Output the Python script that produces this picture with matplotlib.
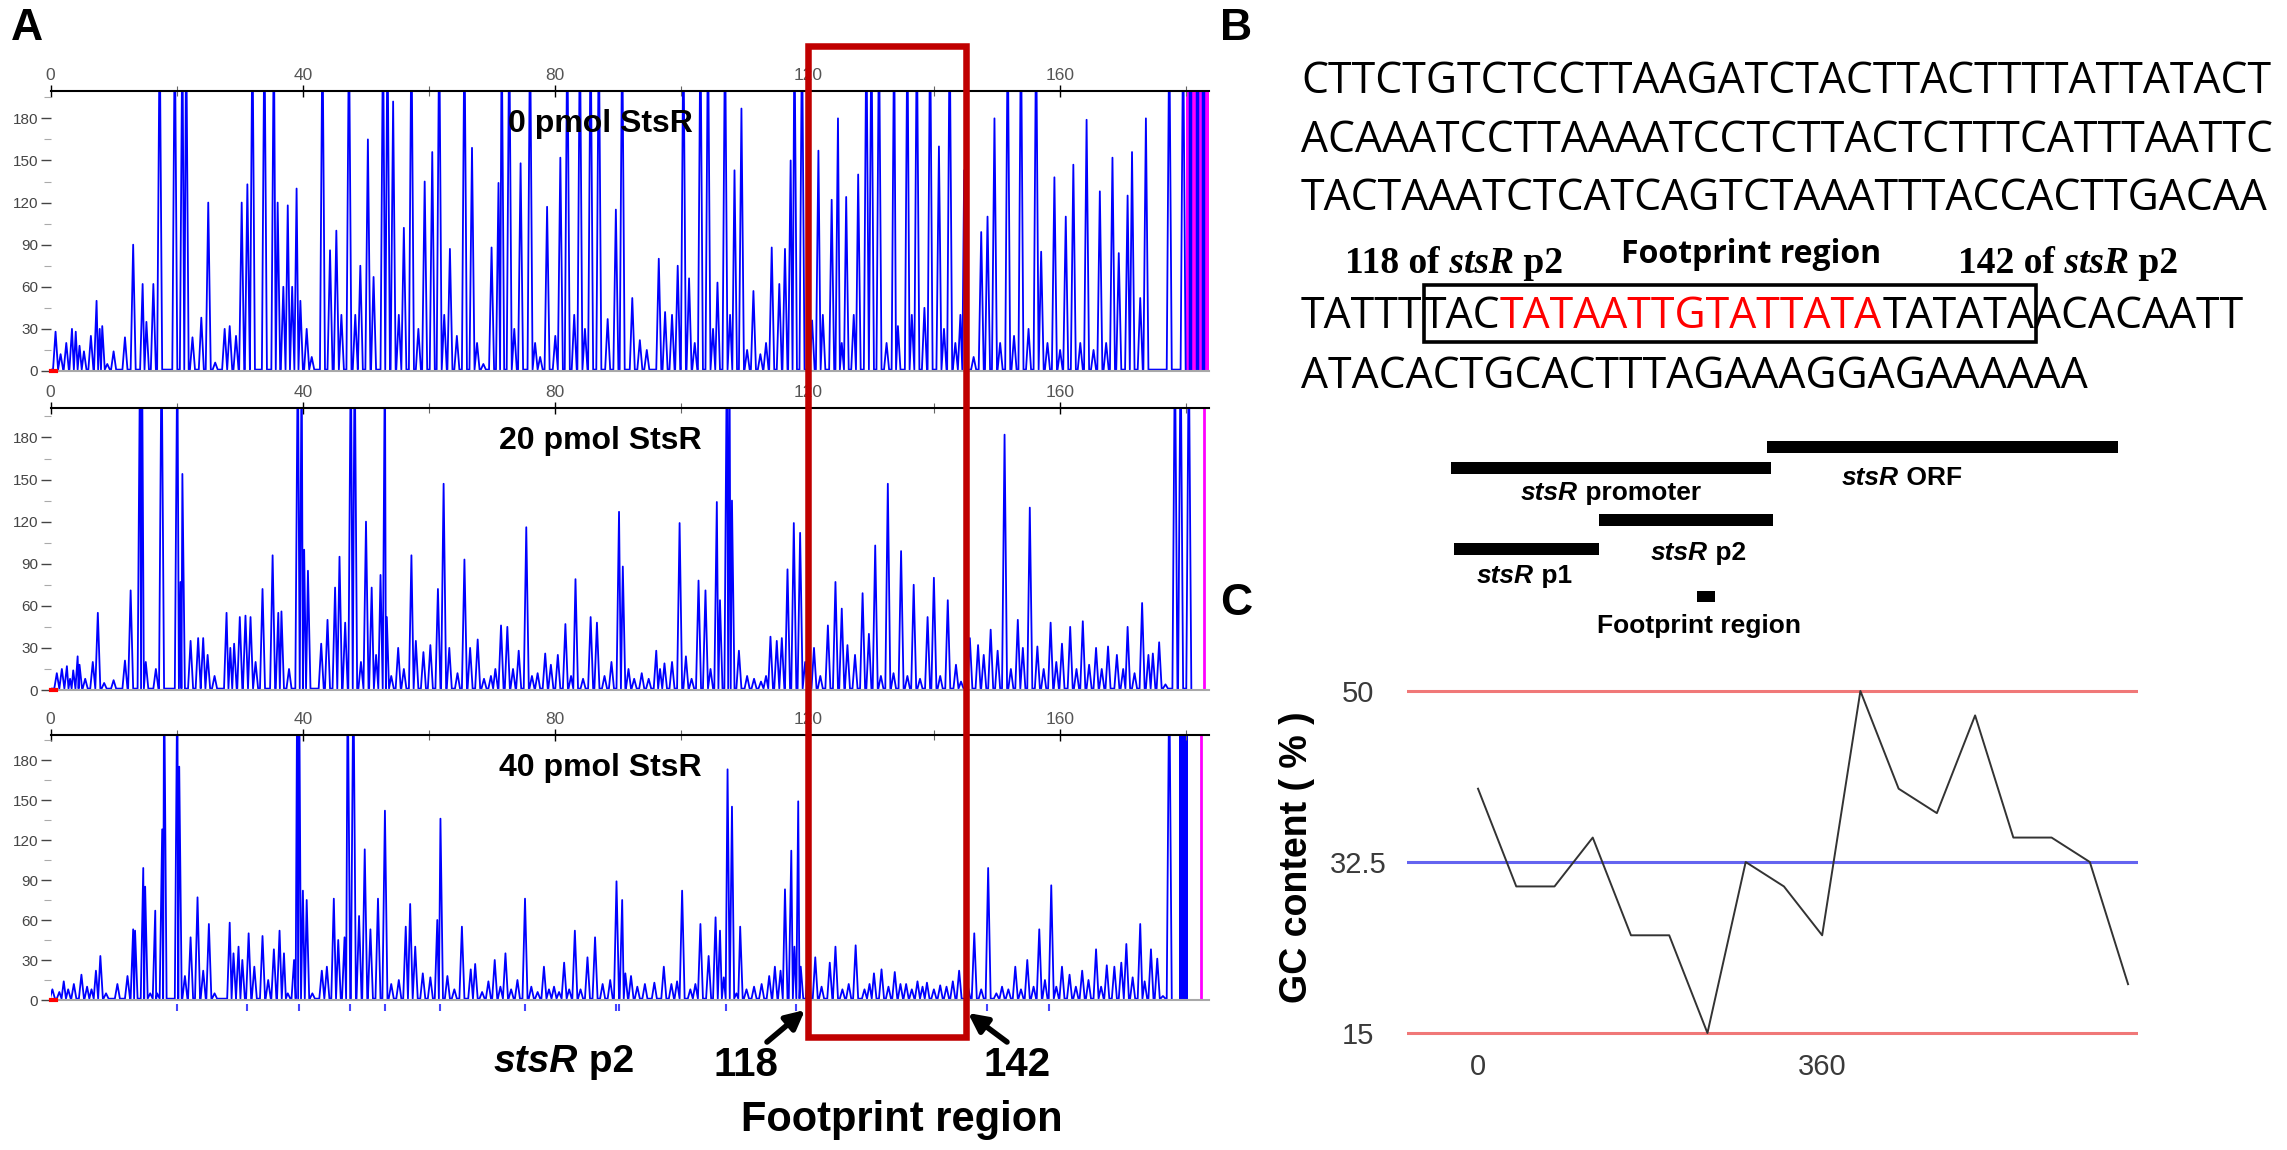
import matplotlib
matplotlib.use("Agg")
import matplotlib.pyplot as plt
from matplotlib import font_manager
from matplotlib.patches import Rectangle

W, H = 2287, 1150

# ---------------- data ----------------
# electropherogram peaks: (position, height); 250 = saturated peak
TOP_PEAKS = [
    (0.8, 28), (1.6, 12), (2.5, 20), (3.4, 30), (4.0, 28), (4.6, 18), (5.3, 14), (6.4, 25),
    (7.3, 50), (7.8, 30), (8.2, 32), (9.0, 5), (10.0, 14), (11.8, 24), (13.1, 90), (14.6, 62),
    (15.2, 35), (16.3, 62), (17.3, 250), (19.7, 250), (20.9, 250), (21.5, 250), (22.5, 24),
    (23.9, 38), (25.0, 120), (26.1, 6), (27.6, 30), (28.4, 32), (29.4, 25), (30.3, 120),
    (31.2, 133), (32.0, 250), (33.9, 250), (35.4, 250), (36.0, 120), (36.9, 60), (37.6, 118),
    (38.3, 60), (39.0, 130), (39.6, 50), (40.6, 30), (41.4, 10), (43.1, 250), (44.3, 86),
    (45.3, 100), (46.1, 40), (47.3, 250), (48.3, 40), (49.1, 75), (50.3, 165), (51.2, 67),
    (52.7, 250), (53.4, 250), (54.3, 192), (55.2, 40), (56.0, 102), (57.2, 250), (58.3, 30),
    (59.3, 135), (60.5, 156), (61.6, 250), (62.4, 40), (63.3, 87), (64.4, 25), (65.6, 250),
    (66.8, 159), (67.6, 20), (68.6, 5), (69.9, 88), (71.0, 134), (71.5, 250), (72.7, 250),
    (73.5, 30), (74.5, 148), (76.0, 250), (76.8, 20), (77.6, 10), (78.7, 117), (80.0, 25),
    (80.8, 152), (81.9, 250), (83.0, 40), (83.9, 250), (84.7, 30), (85.6, 250), (86.9, 250),
    (88.3, 37), (89.6, 115), (90.6, 250), (92.2, 52), (93.4, 22), (94.5, 15), (96.4, 80),
    (97.4, 42), (98.5, 40), (99.4, 75), (100.3, 250), (101.2, 66), (102.1, 20), (103.0, 250),
    (104.2, 250), (105.0, 30), (105.7, 63), (106.9, 250), (107.7, 40), (108.4, 143),
    (109.5, 187), (110.4, 15), (111.4, 57), (112.5, 12), (113.4, 20), (114.3, 88), (115.5, 62),
    (116.4, 87), (117.3, 150), (117.9, 250), (119.1, 250), (120.7, 36), (121.7, 157),
    (122.4, 40), (123.8, 122), (124.8, 180), (125.4, 20), (126.1, 124), (127.3, 40),
    (128.0, 140), (129.3, 250), (130.1, 250), (131.3, 250), (132.5, 20), (133.7, 250),
    (134.3, 32), (135.8, 250), (136.5, 40), (137.3, 250), (138.5, 45), (139.4, 250),
    (140.8, 160), (141.6, 30), (142.5, 250), (143.4, 20), (144.2, 40), (144.8, 143),
    (146.3, 10), (147.5, 99), (148.5, 110), (149.6, 180), (150.5, 20), (151.7, 250),
    (152.7, 25), (153.8, 250), (155.0, 30), (156.2, 250), (157.0, 85), (158.0, 20),
    (159.1, 138), (160.0, 15), (160.9, 110), (162.1, 147), (163.2, 20), (164.2, 179),
    (165.3, 15), (166.3, 128), (167.3, 20), (168.3, 152), (169.3, 84), (170.7, 125),
    (171.4, 156), (172.7, 52), (173.6, 180), (177.3, 250), (179.5, 250),
]

MID_PEAKS = [
    (1.0, 12), (1.8, 15), (2.6, 17), (3.1, 8), (3.6, 14), (4.3, 24), (4.6, 18), (5.5, 8),
    (6.7, 20), (7.5, 55), (8.5, 5), (10.0, 7), (11.8, 21), (12.7, 71), (14.2, 250), (14.5, 250),
    (15.1, 20), (16.7, 15), (17.6, 250), (20.1, 250), (20.6, 77), (20.9, 154), (22.2, 35),
    (23.4, 37), (24.2, 37), (24.9, 25), (26.0, 10), (27.9, 55), (28.5, 30), (29.1, 33),
    (30.0, 52), (30.9, 53), (31.7, 52), (32.5, 20), (33.6, 72), (35.2, 96), (36.1, 55),
    (36.6, 56), (37.8, 15), (39.2, 250), (39.8, 250), (40.2, 100), (40.8, 85), (42.9, 33),
    (43.9, 50), (45.1, 73), (45.8, 95), (46.7, 48), (47.6, 250), (48.2, 250), (49.2, 20),
    (50.0, 120), (50.9, 73), (51.6, 25), (52.3, 82), (53.0, 250), (53.3, 52), (54.0, 10),
    (55.1, 30), (56.0, 15), (57.2, 96), (57.9, 35), (59.1, 27), (60.2, 32), (61.4, 72),
    (62.3, 147), (63.2, 30), (64.5, 12), (65.6, 93), (66.5, 30), (67.7, 36), (68.7, 8),
    (69.8, 10), (70.5, 15), (71.4, 46), (72.4, 45), (73.3, 15), (74.2, 28), (75.4, 116),
    (76.3, 10), (77.2, 12), (78.4, 26), (79.3, 18), (80.4, 25), (81.6, 47), (82.5, 10),
    (83.2, 79), (84.4, 8), (85.6, 52), (86.6, 48), (87.8, 10), (88.9, 20), (90.1, 127),
    (90.7, 88), (91.6, 15), (92.5, 8), (93.7, 12), (94.8, 8), (96.0, 28), (96.6, 15),
    (97.3, 19), (98.5, 20), (99.7, 119), (100.7, 24), (101.6, 8), (102.7, 78), (103.8, 71),
    (104.6, 15), (105.6, 134), (106.1, 64), (107.2, 250), (107.6, 250), (108.0, 135),
    (109.1, 28), (110.4, 10), (111.5, 8), (112.6, 6), (113.4, 10), (114.1, 38), (115.1, 35),
    (115.9, 37), (116.8, 86), (117.8, 119), (118.8, 112), (119.6, 20), (121.0, 30),
    (122.0, 10), (123.2, 46), (124.4, 77), (125.4, 58), (126.3, 32), (127.5, 25), (128.7, 69),
    (129.7, 40), (130.7, 103), (131.6, 10), (132.7, 147), (133.6, 12), (134.8, 99),
    (135.8, 10), (136.8, 75), (137.8, 8), (139.0, 52), (140.0, 80), (141.0, 10), (142.2, 64),
    (143.5, 18), (144.3, 6), (145.7, 37), (147.0, 32), (147.9, 25), (149.0, 43), (150.1, 28),
    (151.2, 182), (152.2, 15), (153.3, 50), (154.1, 30), (155.2, 130), (156.4, 31),
    (157.4, 15), (158.5, 48), (159.4, 20), (160.3, 33), (161.6, 45), (162.6, 15), (163.6, 49),
    (164.6, 18), (165.7, 30), (166.6, 15), (167.6, 31), (169.0, 25), (170.0, 15), (170.7, 45),
    (171.8, 12), (173.0, 62), (174.0, 25), (174.7, 26), (175.7, 34), (176.7, 4),
    (178.2, 250), (179.1, 250), (180.4, 250),
]

BOT_PEAKS = [
    (0.3, 8), (1.4, 6), (2.1, 14), (2.8, 8), (3.7, 12), (4.9, 19), (5.8, 10), (6.5, 8),
    (7.2, 22), (7.9, 33), (8.8, 5), (10.6, 12), (12.2, 18), (13.1, 53), (13.4, 52), (14.7, 99),
    (15.0, 85), (15.8, 5), (16.6, 67), (16.9, 5), (17.7, 128), (18.0, 250), (20.1, 250),
    (20.4, 175), (21.3, 18), (22.2, 47), (23.3, 77), (24.2, 22), (25.1, 57), (26.0, 5),
    (28.4, 58), (29.0, 35), (29.8, 40), (30.4, 30), (31.4, 50), (32.3, 25), (33.6, 48),
    (34.5, 15), (35.4, 38), (36.3, 52), (37.0, 35), (37.6, 5), (38.6, 30), (39.1, 250),
    (39.4, 250), (40.0, 82), (40.6, 75), (41.5, 5), (43.0, 22), (43.8, 25), (44.9, 76),
    (45.6, 45), (46.6, 47), (47.1, 250), (48.0, 250), (48.9, 63), (49.8, 113), (50.7, 53),
    (51.9, 76), (53.0, 142), (54.0, 12), (55.2, 15), (56.3, 55), (57.0, 72), (57.8, 40),
    (59.0, 20), (60.2, 17), (61.3, 60), (61.8, 136), (62.9, 18), (64.0, 8), (65.2, 55),
    (66.6, 23), (67.3, 27), (68.4, 6), (69.4, 14), (70.4, 30), (71.3, 10), (72.1, 35),
    (73.0, 8), (74.0, 15), (75.2, 76), (76.2, 10), (77.2, 6), (78.2, 25), (79.0, 8),
    (79.8, 10), (80.6, 6), (81.4, 28), (82.2, 8), (83.1, 52), (84.0, 8), (85.1, 32),
    (86.3, 47), (87.5, 12), (88.7, 15), (89.7, 89), (90.6, 75), (91.1, 20), (92.0, 18),
    (93.0, 10), (94.2, 12), (95.7, 13), (97.2, 25), (98.4, 12), (99.3, 14), (100.1, 82),
    (101.4, 8), (102.2, 12), (103.0, 57), (104.3, 33), (105.4, 62), (106.1, 52), (106.7, 17),
    (107.3, 173), (108.0, 145), (108.7, 5), (109.3, 55), (110.3, 8), (111.5, 10), (112.7, 12),
    (113.9, 18), (114.8, 25), (115.7, 22), (116.4, 83), (117.4, 112), (117.9, 40),
    (118.5, 149), (118.9, 25), (120.1, 33), (121.2, 32), (122.2, 10), (123.5, 28), (124.4, 40),
    (125.5, 8), (126.5, 12), (127.6, 41), (129.0, 8), (129.8, 12), (130.5, 20), (131.7, 23),
    (132.8, 10), (133.8, 21), (134.7, 12), (135.6, 12), (136.5, 8), (137.4, 14), (138.2, 10),
    (138.9, 13), (140.0, 8), (141.0, 11), (142.0, 10), (143.0, 14), (144.0, 22), (145.4, 10),
    (146.4, 50), (147.5, 8), (148.6, 99), (149.9, 5), (150.8, 10), (151.8, 8), (152.9, 25),
    (153.8, 8), (154.8, 30), (155.8, 10), (156.7, 53), (157.6, 15), (158.6, 86), (159.4, 10),
    (160.3, 25), (161.5, 19), (162.5, 10), (163.5, 22), (164.5, 15), (165.7, 38), (166.5, 10),
    (167.4, 26), (168.6, 25), (169.7, 28), (170.5, 42), (171.5, 17), (172.7, 57), (173.4, 14),
    (174.4, 38), (175.4, 31), (176.3, 3), (177.3, 250),
]

# peak-call marks under the 40 pmol trace
BOT_MARKS = [20.0, 31.2, 39.4, 47.5, 53.0, 61.8, 75.2, 89.7, 90.1, 107.0, 118.2, 148.4, 158.2]

TRACE_LABELS = ["0 pmol StsR", "20 pmol StsR", "40 pmol StsR"]
TRACE_YMAX = [199.5, 201, 198.75]
X_TICKS = [0, 40, 80, 120, 160]
Y_TICKS = [0, 30, 60, 90, 120, 150, 180]

SEQ_LINES = [
    "CTTCTGTCTCCTTAAGATCTACTTACTTTTATTATACT",
    "ACAAATCCTTAAAATCCTCTTACTCTTTCATTTAATTC",
    "TACTAAATCTCATCAGTCTAAATTTACCACTTGACAA",
    None,
    "ATACACTGCACTTTAGAAAGGAGAAAAAA",
]
SEQ_BOX_PIECES = [("TATTT", "black"), ("TAC", "black"), ("TATAATTGTATTATA", "red"),
                  ("TATATA", "black"), ("ACACAATT", "black")]

GC_POS = [0, 40, 80, 120, 160, 200, 240, 280, 320, 360, 400, 440, 480, 520, 560, 600, 640, 680]
GC_VAL = [40, 30, 30, 35, 25, 25, 15, 32.5, 30, 25, 50, 40, 37.5, 47.5, 35, 35, 32.5, 20]
GC_YTICKS = [15, 32.5, 50]
GC_XTICKS = [0, 360]


def pick_font(names, bold=False):
    for n in names:
        for f in font_manager.fontManager.ttflist:
            if f.name == n and (not bold or (isinstance(f.weight, int) and f.weight >= 600)
                                or f.weight in ("bold", "semibold", "heavy", "black")):
                return n
    return "DejaVu Sans"


SANS = pick_font(["Liberation Sans", "Arial"])
SERIF = pick_font(["Liberation Serif", "DejaVu Serif"])
SEQ = pick_font(["Open Sans", "Noto Sans", "Lato"])
SEQ_BOLD = pick_font(["Open Sans", "Noto Sans", "Lato"], bold=True)
plt.rcParams["font.family"] = SANS


def trace_line(peaks, base=1.0, hw=0.4):
    pos = [p for p, _ in peaks]
    xs, ys = [0], [base]
    for i, (p, h) in enumerate(peaks):
        lg = (p - pos[i - 1]) / 2 if i > 0 else hw
        rg = (pos[i + 1] - p) / 2 if i < len(pos) - 1 else hw
        xs += [p - min(hw, lg), p, p + min(hw, rg)]
        ys += [base, h, base]
    return xs, ys


def setup_trace(ax, ymax):
    ax.set_xlim(0, 183.6)
    ax.set_ylim(0, ymax)
    ax.spines["left"].set_visible(False)
    ax.spines["right"].set_visible(False)
    ax.spines["top"].set_linewidth(1.5)
    ax.spines["bottom"].set_color("#a8a8a8")
    ax.spines["bottom"].set_linewidth(1.5)
    ax.xaxis.tick_top()
    ax.set_xticks(X_TICKS)
    ax.set_xticks([20, 60, 100, 140, 180], minor=True)
    ax.tick_params(axis="x", which="major", direction="inout", length=9, width=1,
                   colors="k", labelcolor="#555555", labelsize=12.5, pad=1)
    ax.tick_params(axis="x", which="minor", direction="inout", length=7, width=0.8, colors="#666666")
    ax.set_yticks(Y_TICKS)
    ax.set_yticks([15, 45, 75, 105, 135, 165, 195], minor=True)
    ax.tick_params(axis="y", which="major", direction="out", length=7, width=1,
                   colors="#444444", labelsize=11, pad=2)
    ax.tick_params(axis="y", which="minor", direction="out", length=5, width=0.8, colors="#aaaaaa")
    ax.plot([0, 0.9], [0, 0], color="red", lw=3, clip_on=False, zorder=5)


fig = plt.figure(figsize=(W / 100, H / 100), dpi=100)

# ---------------- panel A: three traces ----------------
ax_left = 50.5 / W
ax_w = 1158.5 / W
boxes = [(91, 371), (408, 690), (735, 1000)]
axes = []
for (top, bot), peaks, ymax in zip(boxes, [TOP_PEAKS, MID_PEAKS, BOT_PEAKS], TRACE_YMAX):
    ax = fig.add_axes([ax_left, (H - bot) / H, ax_w, (bot - top) / H])
    setup_trace(ax, ymax)
    xs, ys = trace_line(peaks)
    ax.plot(xs, ys, color="#0000ff", lw=1.3)
    axes.append(ax)

a0, a1, a2 = axes
a0.axvspan(180.0, 183.6, color="#ff00ff", lw=0)
a0.vlines([180.6, 181.7, 182.6], 0, 250, colors="#0000ff", lw=2.5)
a1.vlines([182.8], 0, 250, colors="#ff00ff", lw=2)
a2.axvspan(178.8, 180.2, color="#0000ff", lw=0)
a2.vlines([182.3], 0, 250, colors="#ff00ff", lw=2)
a2.vlines(BOT_MARKS, -8, -3, colors="#4444ff", lw=1.5, clip_on=False)

# ---------------- panel C: GC content ----------------
gl, gr = 1407, 2138
gb, gt = 1042.8, 681.2
axc = fig.add_axes([gl / W, (H - gb) / H, (gr - gl) / W, (gb - gt) / H])
axc.set_xlim(-74.3, 690.4)
axc.set_ylim(14, 51)
axc.axhline(50, color="#f07878", lw=2.2)
axc.axhline(15, color="#f07878", lw=2.2)
axc.axhline(32.5, color="#6464f0", lw=2.2)
axc.plot(GC_POS, GC_VAL, color="#333333", lw=1.4)
for s in axc.spines.values():
    s.set_visible(False)
axc.set_yticks(GC_YTICKS)
axc.set_yticklabels(["15", "32.5", "50"], ha="center")
axc.set_xticks(GC_XTICKS)
axc.tick_params(axis="y", length=0, pad=35, labelsize=21, labelcolor="#3a3a3a")
axc.tick_params(axis="x", length=0, pad=7, labelsize=21, labelcolor="#3a3a3a")

# ---------------- overlay in pixel coordinates ----------------
ov = fig.add_axes([0, 0, 1, 1])
ov.set_xlim(0, W)
ov.set_ylim(H, 0)
ov.axis("off")
ov.set_zorder(10)


def rich(x, y, pieces, size, family, color="black"):
    prev = None
    for s, style in pieces:
        kw = dict(fontsize=size, family=family, weight="bold", style=style, color=color)
        if prev is None:
            prev = ov.text(x, y, s, va="baseline", ha="left", **kw)
        else:
            prev = ov.annotate(s, xy=(1, 0), xycoords=prev, va="bottom", ha="left", **kw)
    return prev


# panel letters
ov.text(11, 40, "A", fontsize=32, weight="bold", va="baseline")
ov.text(1220, 40, "B", fontsize=32, weight="bold", va="baseline")
ov.text(1220, 615, "C", fontsize=32, weight="bold", va="baseline")

# trace labels
for (top, bot), lab in zip(boxes, TRACE_LABELS):
    ov.text(600, top + 33, lab, fontsize=23, weight="bold", ha="center", va="center")

# red footprint box and arrows
ov.add_patch(Rectangle((808, 46), 158, 991, fill=False, ec="#c00000", lw=4.7))
arrow = dict(arrowstyle="-|>", lw=4, color="black", mutation_scale=28, shrinkA=0, shrinkB=0)
ov.annotate("", xy=(805, 1010), xytext=(767, 1042), arrowprops=arrow)
ov.annotate("", xy=(968, 1013), xytext=(1007, 1042), arrowprops=arrow)
rich(494, 1072, [("stsR", "italic"), (" p2", "normal")], 28, SANS)
ov.text(714, 1076, "118", fontsize=29, weight="bold", va="baseline")
ov.text(984, 1076, "142", fontsize=29, weight="bold", va="baseline")
ov.text(741, 1131, "Footprint region", fontsize=30, weight="bold", va="baseline")

# panel B sequence
renderer = fig.canvas.get_renderer()


def fit(t, target):
    w = t.get_window_extent(renderer).width
    t.set_fontsize(t.get_fontsize() * target / w)
    return t.get_fontsize()


seq_base = [93, 152, 210, 328, 388]
seq_texts = []
for line, yb in zip(SEQ_LINES, seq_base):
    if line is not None:
        seq_texts.append(ov.text(1301, yb, line, fontsize=30, family=SEQ, va="baseline"))
seq_size = fit(seq_texts[0], 967)
for t in seq_texts:
    t.set_fontsize(seq_size)

pieces = []
prev = None
for s, c in SEQ_BOX_PIECES:
    if prev is None:
        prev = ov.text(1301, seq_base[3], s, fontsize=seq_size, family=SEQ, color=c, va="baseline")
    else:
        prev = ov.annotate(s, xy=(1, 0), xycoords=prev, va="bottom", fontsize=seq_size,
                           family=SEQ, color=c)
    pieces.append(prev)

rich(1345, 273, [("118 of", "normal"), (" stsR", "italic"), (" p2", "normal")], 27, SERIF)
rich(1958, 273, [("142 of", "normal"), (" stsR", "italic"), (" p2", "normal")], 27, SERIF)
fp = ov.text(1621, 263, "Footprint region", fontsize=22, family=SEQ_BOLD, weight="bold", va="baseline")
fit(fp, 260)

# schematic bars
for x0, x1, y0, y1 in [(1767, 2118, 441, 453), (1451, 1771, 462, 474), (1599, 1773, 514, 526),
                       (1454, 1599, 543, 555), (1697, 1715, 591, 602)]:
    ov.add_patch(Rectangle((x0, y0), x1 - x0, y1 - y0, color="black", lw=0))
rich(1842, 485, [("stsR", "italic"), (" ORF", "normal")], 19, SANS)
rich(1521, 500, [("stsR", "italic"), (" promoter", "normal")], 19, SANS)
rich(1651, 560, [("stsR", "italic"), (" p2", "normal")], 19, SANS)
rich(1477, 583, [("stsR", "italic"), (" p1", "normal")], 19, SANS)
ov.text(1597, 633, "Footprint region", fontsize=19, weight="bold", va="baseline")

# GC label
ov.text(1297, 857, "GC content ( % )", fontsize=27, weight="bold", rotation=90,
        ha="center", va="center")

# box around the footprint part of the sequence
fig.canvas.draw()
inv = ov.transData.inverted()
bx0 = inv.transform((pieces[0].get_window_extent(renderer).x1 + 1, 0))[0]
bx1 = inv.transform((pieces[3].get_window_extent(renderer).x1 + 2, 0))[0]
ov.add_patch(Rectangle((bx0, 285), bx1 - bx0, 57, fill=False, ec="black", lw=2.6))

fig.savefig("out.png", dpi=100)
